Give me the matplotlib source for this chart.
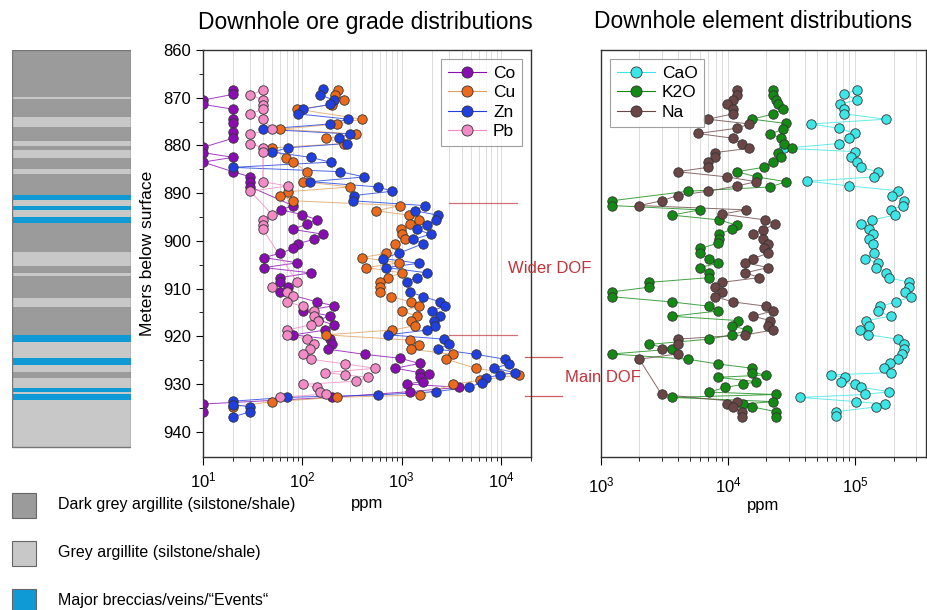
import numpy as np
import matplotlib.pyplot as plt
import matplotlib.transforms as mtransforms
from matplotlib.patches import Rectangle
from matplotlib.lines import Line2D

plt.rcParams['font.family'] = ['Liberation Sans', 'DejaVu Sans']
plt.rcParams['mathtext.fontset'] = 'custom'
plt.rcParams['mathtext.rm'] = 'Liberation Sans'

# ---- lithology log (top of each unit, m) ----
lith_tops = [860.0, 869.8, 870.3, 874.1, 876.1, 879.1, 880.1, 881.0, 882.7, 885.0,
             885.9, 890.4, 891.4, 892.6, 893.5, 894.9, 896.3, 902.3, 905.3, 906.8,
             907.4, 911.9, 913.8, 919.7, 921.2, 924.6, 926.0, 927.4, 928.8, 930.9,
             931.6, 932.1, 933.4]
lith_types = ['D', 'L', 'D', 'L', 'D', 'L', 'D', 'L', 'D', 'L',
              'D', 'B', 'L', 'B', 'L', 'B', 'D', 'L', 'D', 'L',
              'D', 'L', 'D', 'B', 'L', 'B', 'L', 'D', 'L', 'B',
              'L', 'B', 'L']
lith_base = 943.2

# ---- ore grades (ppm) ----
co_depth = [868.4, 869.3, 870.5, 871.4, 872.4, 874.5, 875.4, 877.1, 878.5, 880.4,
            881.5, 882.5, 883.5, 885.5, 886.6, 887.6, 888.7, 892.6, 893.5, 894.5,
            895.6, 896.5, 897.6, 898.6, 899.7, 900.6, 901.6, 902.6, 903.5, 904.6,
            905.6, 906.7, 907.7, 908.7, 909.6, 910.7, 912.8, 913.6, 914.7, 915.7,
            916.6, 917.6, 918.7, 919.7, 920.6, 921.7, 922.7, 923.8, 924.6, 925.7,
            926.7, 927.6, 928.0, 928.5, 929.5, 930.0, 930.7, 931.6, 932.8, 934.2,
            935.8]
co_ppm = [20, 20, 10, 10, 20, 20, 20, 20, 20, 10,
          10, 20, 10, 20, 30, 30, 30, 80, 61, 100,
          141, 111, 80, 161, 130, 90, 81, 60, 41, 89,
          41, 121, 60, 60, 71, 60, 140, 208, 101, 190,
          145, 208, 170, 81, 190, 197, 180, 427, 960, 1510,
          860, 1510, 1900, 1530, 1640, 1120, 3800, 1200, 197, 10,
          10]

cu_depth = [868.4, 869.4, 870.5, 871.5, 872.4, 874.5, 875.5, 876.6, 877.6, 878.5,
            879.6, 880.5, 882.6, 883.5, 885.5, 887.6, 888.7, 889.7, 890.5, 891.6,
            892.6, 893.7, 894.6, 895.6, 896.5, 897.6, 898.6, 899.7, 900.6, 902.6,
            903.5, 904.6, 905.6, 906.7, 907.7, 908.7, 909.6, 910.7, 911.7, 912.8,
            913.7, 914.7, 915.8, 916.7, 917.8, 918.7, 919.7, 920.8, 921.8, 922.7,
            923.8, 924.8, 926.7, 928.1, 929.2, 930.1, 932.3, 932.8, 933.7, 934.8]
cu_ppm = [230, 213, 263, 197, 89, 398, 222, 60, 344, 172,
          263, 50, 69, 81, 111, 101, 302, 71, 60, 81,
          960, 550, 1170, 1480, 1220, 980, 1000, 1080, 860, 700,
          398, 940, 440, 1000, 720, 600, 600, 600, 780, 1240,
          1500, 1000, 1440, 1250, 1350, 790, 173, 1200, 1480, 1230,
          3300, 2800, 5600, 15000, 6100, 3300, 1530, 222, 50, 20]

zn_depth = [868.2, 869.4, 870.5, 871.4, 872.4, 873.4, 874.5, 875.5, 876.6, 877.6,
            878.5, 879.6, 880.5, 881.4, 882.5, 883.5, 884.6, 885.5, 886.6, 887.6,
            888.7, 889.6, 890.5, 891.6, 892.6, 893.7, 894.6, 895.6, 896.7, 897.6,
            898.6, 899.7, 900.6, 902.6, 903.7, 904.7, 905.6, 906.7, 907.7, 908.7,
            910.7, 911.7, 912.8, 913.7, 914.7, 915.8, 916.7, 917.8, 918.7, 919.7,
            920.6, 921.7, 922.7, 923.8, 924.8, 925.8, 926.7, 927.6, 928.1, 928.7,
            929.7, 930.7, 931.6, 932.3, 932.8, 933.6, 934.3, 934.8, 935.8, 936.9]
zn_ppm = [161, 150, 208, 190, 101, 91, 290, 190, 40, 302,
          233, 280, 71, 50, 121, 192, 20, 240, 420, 120,
          580, 800, 330, 320, 1700, 1350, 2300, 2200, 1800, 1420,
          1950, 1300, 1640, 930, 650, 1480, 700, 1800, 1420, 1120,
          1200, 1650, 2450, 2700, 2000, 2450, 2100, 2150, 1800, 730,
          2650, 3000, 2300, 5600, 11000, 12000, 8500, 13900, 9700, 7100,
          6400, 4700, 2200, 580, 70, 20, 20, 30, 30, 20]

pb_depth = [868.4, 869.4, 870.5, 871.5, 872.4, 873.4, 874.5, 876.6, 877.6, 879.6,
            880.5, 881.4, 887.6, 888.5, 889.6, 894.6, 895.6, 896.7, 897.6, 908.7,
            909.6, 910.7, 911.6, 912.8, 913.7, 914.7, 915.8, 916.7, 917.6, 918.7,
            919.7, 920.6, 921.7, 922.7, 923.8, 924.8, 925.8, 926.7, 927.6, 928.1,
            928.6, 929.4, 930.1, 930.7, 931.6, 932.1, 932.8]
pb_ppm = [40, 30, 40, 40, 40, 30, 40, 50, 30, 30,
          40, 40, 40, 71, 30, 50, 40, 40, 40, 89,
          50, 70, 80, 70, 101, 130, 130, 145, 121, 70,
          70, 111, 130, 120, 101, 121, 270, 540, 170, 270,
          460, 350, 101, 140, 150, 173, 60]

# ---- major elements (ppm) ----
cao_depth = [868.4, 869.2, 870.5, 871.3, 872.4, 873.4, 874.5, 875.5, 876.4, 877.5,
             878.5, 879.6, 880.6, 881.3, 882.5, 883.5, 884.6, 885.5, 886.6, 887.5,
             888.5, 889.5, 890.5, 891.6, 892.6, 893.5, 894.6, 895.6, 896.5, 897.6,
             898.6, 899.6, 900.7, 902.6, 903.7, 904.7, 905.6, 906.7, 907.7, 908.7,
             909.6, 910.7, 911.7, 912.8, 913.7, 914.7, 915.8, 916.7, 917.8, 918.7,
             919.7, 920.6, 921.7, 922.7, 923.7, 924.8, 925.7, 926.7, 927.6, 928.1,
             928.6, 929.5, 930.1, 930.7, 931.6, 932.2, 932.8, 933.7, 934.2, 934.8,
             935.8, 936.7]
cao_ppm = [103000, 82000, 103000, 76000, 82000, 82000, 175000, 45000, 74000, 99000,
           90000, 74000, 27600, 100000, 92000, 103000, 110000, 150000, 140000, 42000,
           90000, 216000, 195000, 240000, 237000, 190000, 207000, 135000, 111000, 129000,
           138000, 129000, 138000, 140000, 120000, 152000, 146000, 175000, 183000, 265000,
           263000, 245000, 275000, 210000, 157000, 150000, 190000, 122000, 129000, 108000,
           127000, 218000, 242000, 242000, 233000, 218000, 186000, 167000, 190000, 65000,
           83000, 77000, 100000, 111000, 185000, 120000, 37000, 102000, 172000, 146000,
           71000, 71000]

k2o_depth = [868.4, 869.4, 870.5, 871.4, 872.4, 873.4, 874.5, 875.4, 876.6, 877.6,
             878.5, 879.6, 880.5, 881.5, 882.5, 883.5, 884.6, 885.5, 886.6, 887.6,
             888.7, 889.6, 891.6, 892.6, 893.5, 894.6, 895.6, 896.7, 897.6, 898.6,
             899.6, 900.5, 901.6, 902.6, 903.7, 904.7, 905.6, 906.7, 907.7, 908.7,
             909.7, 910.7, 911.7, 912.8, 913.7, 914.7, 915.8, 916.7, 917.8, 918.7,
             919.7, 920.6, 921.7, 922.7, 923.7, 924.8, 925.8, 926.7, 927.6, 928.1,
             928.6, 929.5, 930.1, 930.7, 931.7, 932.2, 932.8, 933.7, 934.2, 934.8,
             935.8, 936.9]
k2o_ppm = [22500, 22500, 23800, 24800, 27000, 22700, 15500, 28500, 27000, 21500,
           26000, 27300, 31700, 24800, 26000, 22500, 19000, 11700, 16800, 28500,
           21500, 4800, 1215, 1215, 6000, 3600, 8400, 11700, 10700, 8400,
           8400, 8300, 6000, 6000, 7100, 8300, 6000, 7100, 7100, 2400,
           2400, 1215, 1215, 3600, 7100, 8300, 3600, 11900, 10700, 14200,
           10700, 7100, 2400, 3600, 1215, 4800, 8300, 15500, 15500, 20000,
           8300, 16600, 13100, 9500, 7100, 23700, 3600, 22500, 13100, 15500,
           23700, 23700]

na_depth = [868.4, 869.4, 870.5, 871.4, 872.4, 873.4, 874.5, 875.5, 876.4, 877.5,
            878.5, 879.6, 880.6, 881.5, 882.5, 883.5, 884.6, 885.5, 886.6, 887.6,
            888.5, 889.6, 890.5, 891.6, 892.6, 893.5, 894.4, 895.6, 896.5, 897.7,
            898.6, 899.6, 900.7, 901.6, 902.6, 903.7, 904.6, 905.6, 906.7, 907.7,
            908.7, 909.6, 910.7, 911.7, 912.8, 913.7, 914.7, 915.8, 916.7, 917.8,
            918.7, 919.7, 920.6, 921.7, 922.7, 923.7, 924.8, 932.2, 933.7, 934.2,
            934.8, 935.8, 936.9]
na_ppm = [11700, 11700, 10900, 9800, 10900, 10900, 6900, 14700, 11700, 5800,
          10900, 12800, 14700, 7900, 7900, 6900, 6900, 4000, 9800, 16600,
          11700, 6900, 4000, 3000, 2000, 13800, 8900, 19500, 23300, 18800,
          15600, 18800, 20700, 19000, 20700, 15600, 13600, 20700, 13600, 17600,
          8900, 7900, 8900, 7900, 10900, 19900, 22500, 15600, 21500, 20700,
          22500, 13600, 4000, 4000, 3000, 4000, 2000, 3000, 11700, 9800,
          10900, 12800, 12800]

# ---- figure ----
W, H = 928, 610
fig = plt.figure(figsize=(W / 100, H / 100), dpi=100)

def px_axes(x0, y0, x1, y1):
    return fig.add_axes([x0 / W, 1 - y1 / H, (x1 - x0) / W, (y1 - y0) / H])

ylims = (945.3, 860)

# lithology column
axl = px_axes(12, 50, 131, 457)
lith_colors = {'D': '#9b9b9b', 'L': '#c8c8c8', 'B': '#0f9ad6'}
bottoms = lith_tops[1:] + [lith_base]
for top, bot, t in zip(lith_tops, bottoms, lith_types):
    axl.axhspan(top, bot, color=lith_colors[t], lw=0)
axl.add_patch(Rectangle((0, 860), 1, lith_base - 860, fill=False, ec='#777777', lw=1))
axl.set_xlim(0, 1)
axl.set_ylim(*ylims)
axl.axis('off')

def style_log(ax):
    ax.set_xscale('log')
    ax.grid(True, which='both', axis='x', color='#dcdcdc', lw=0.7)
    ax.set_axisbelow(True)
    for s in ax.spines.values():
        s.set_color('#333333')
        s.set_linewidth(1.0)
    ax.tick_params(axis='x', which='major', direction='out', length=6, labelsize=12)
    ax.tick_params(axis='x', which='minor', direction='out', length=3)

def series(ax, d, v, color, label, lc=None):
    ax.plot(v, d, '-', color=lc or color, lw=0.7, alpha=0.8, zorder=2)
    ax.plot(v, d, 'o', ms=6.8, mfc=color, mec='#333333', mew=0.6, ls='none', zorder=3)
    return Line2D([], [], color=lc or color, lw=0.8, marker='o', ms=8,
                  mfc=color, mec='#333333', mew=0.6, label=label)

# ore grades
ax1 = px_axes(203, 50, 531, 457)
style_log(ax1)
h = [series(ax1, co_depth, co_ppm, '#8a0db3', 'Co'),
     series(ax1, cu_depth, cu_ppm, '#ec6a1c', 'Cu', '#e0a060'),
     series(ax1, zn_depth, zn_ppm, '#1f3fe0', 'Zn'),
     series(ax1, pb_depth, pb_ppm, '#f28bc6', 'Pb')]
ax1.set_xlim(10, 2.0e4)
ax1.set_ylim(*ylims)
ax1.set_yticks(np.arange(860, 941, 10))
ax1.set_yticks(np.arange(865, 945, 10), minor=True)
ax1.tick_params(axis='y', which='major', direction='out', length=5, labelsize=12)
ax1.tick_params(axis='y', which='minor', direction='out', length=3)
ax1.set_ylabel('Meters below surface', fontsize=12.5, labelpad=6)
ax1.set_xlabel('ppm', fontsize=12, labelpad=4)
leg = ax1.legend(handles=h, loc='upper right', fontsize=12.5, frameon=True, fancybox=False,
                 edgecolor='#888888', handlelength=2.2, borderaxespad=0.5,
                 labelspacing=0.25, handletextpad=0.4)
leg.get_frame().set_linewidth(0.8)

# element distributions
ax2 = px_axes(601, 50, 926, 457)
ax2.patch.set_visible(False)
style_log(ax2)
h2 = [series(ax2, cao_depth, cao_ppm, '#3de6e6', 'CaO'),
      series(ax2, k2o_depth, k2o_ppm, '#138a13', 'K2O'),
      series(ax2, na_depth, na_ppm, '#6b4646', 'Na')]
ax2.set_xlim(1e3, 3.6e5)
ax2.set_ylim(*ylims)
ax2.set_yticks([])
ax2.tick_params(axis='x', which='major', pad=7)
ax2.set_xlabel('ppm', fontsize=12, labelpad=2)
leg2 = ax2.legend(handles=h2, loc='upper left', fontsize=12.5, frameon=True, fancybox=False,
                  edgecolor='#888888', handlelength=2.2, borderaxespad=0.5,
                  labelspacing=0.25, handletextpad=0.4)
leg2.get_frame().set_linewidth(0.8)

# DOF markers
dof_red = '#c0343a'
tr = mtransforms.blended_transform_factory(ax1.transAxes, ax1.transData)
for y in (892.1, 919.7):
    ax1.plot([0.75, 0.957], [y, y], color=dof_red, lw=0.9, alpha=0.7,
             transform=tr, clip_on=False)
for y in (924.4, 932.5):
    ax1.plot([0.982, 1.095], [y, y], color=dof_red, lw=0.9, alpha=0.8,
             transform=tr, clip_on=False)
fig.text(1.058, 905.7, 'Wider DOF', color=dof_red, fontsize=12, ha='center',
         va='center', transform=tr, zorder=10)
fig.text(1.22, 928.6, 'Main DOF', color=dof_red, fontsize=12, ha='center',
         va='center', transform=tr, zorder=10)

fig.text(365 / W, 1 - 22 / H, 'Downhole ore grade distributions', fontsize=16.5,
         ha='center', va='center')
fig.text(753 / W, 1 - 22 / H, 'Downhole element distributions', fontsize=16.5,
         ha='center', va='center')

# lithology legend
leg_labels = ['Dark grey argillite (silstone/shale)', 'Grey argillite (silstone/shale)',
              'Major breccias/veins/\u201cEvents\u201c']
for i, (t, lab) in enumerate(zip(['D', 'L', 'B'], leg_labels)):
    yc = 505 + 48 * i
    fig.patches.append(Rectangle((12 / W, 1 - (yc + 12.5) / H), 24 / W, 25 / H,
                                 transform=fig.transFigure, fc=lith_colors[t],
                                 ec='#666666', lw=0.8))
    fig.text(58 / W, 1 - yc / H, lab, fontsize=11.5, va='center', ha='left')

fig.savefig('out.png', dpi=100)
